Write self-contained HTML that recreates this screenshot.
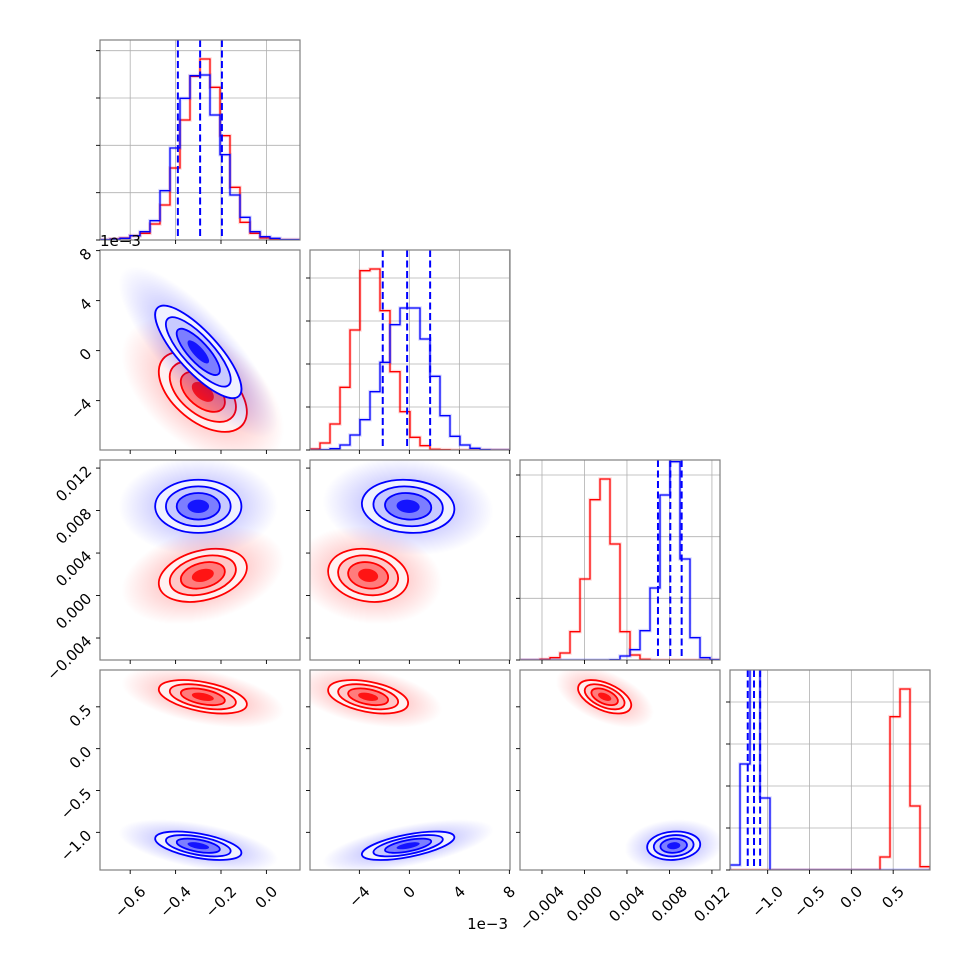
<!DOCTYPE html>
<html><head><meta charset="utf-8"><style>
html,body{margin:0;padding:0;background:#fff;}
svg text{font-family:"DejaVu Sans","Liberation Sans",sans-serif;font-size:15px;fill:#000;}
</style></head><body>
<svg id="fig" width="970" height="970" viewBox="0 0 970 970" xmlns="http://www.w3.org/2000/svg">
<defs id="defs"></defs>
</svg>
<script>
// ---- data ----
const paramRanges = [[-0.733,0.148],[-7.95,8.05],[-0.00607,0.01276],[-1.45,0.94]];
const paramTicks = [[-0.6,-0.4,-0.2,0.0],[-4,0,4,8],[-0.004,0.000,0.004,0.008,0.012],[-1.0,-0.5,0.0,0.5]];
const paramTickLabels = [["\u22120.6","\u22120.4","\u22120.2","0.0"],["\u22124","0","4","8"],["\u22120.004","0.000","0.004","0.008","0.012"],["\u22121.0","\u22120.5","0.0","0.5"]];
const histMax = 600;
const histTickStep = [142,129,185,126];
const redHist0 = [1,3,6,13,20,48,105,216,360,491,543,458,313,158,53,20,6,2,1,1];
const blueHist0 = [1,2,5,13,25,58,148,276,425,493,495,375,256,135,68,25,10,5,1,1];
const redHist1 = [3,21,78,188,360,538,543,418,235,115,38,13,2,1,0,0,0,0,0,0];
const blueHist1 = [0,1,4,15,45,91,175,263,376,426,426,333,221,103,41,15,5,1,0,0];
const redHist2 = [0,0,2,7,21,85,243,481,543,348,85,15,2,0,0,0,0,0,0,0];
const blueHist2 = [0,0,0,0,0,0,0,0,0,1,12,31,88,216,495,595,303,67,7,1];
const redHist3 = [0,0,0,0,0,0,0,0,0,0,0,0,0,0,0,39,460,543,192,10];
const blueHist3 = [15,318,1000,216,0,0,0,0,0,0,0,0,0,0,0,0,0,0,0,0];
const blueQuantiles = [[-0.390,-0.292,-0.196],[-2.13,-0.18,1.66],[0.00692,0.00808,0.00915],[-1.238,-1.163,-1.09]];
const blueMean = [-0.30,-0.1,0.0084,-1.16];
const blueSd = [0.095,1.85,0.00125,0.085];
const redMean = [-0.28,-3.3,0.0019,0.62];
const redSd = [0.097,1.6,0.00125,0.1];
const blueCorr = {"0-1":-0.8,"0-2":0.0,"1-2":-0.1,"0-3":-0.5,"1-3":0.6,"2-3":0.1};
const redCorr = {"0-1":-0.5,"0-2":0.3,"1-2":-0.15,"0-3":-0.45,"1-3":-0.4,"2-3":-0.5};
const offsetText = "1e\u22123";

const redHists=[redHist0,redHist1,redHist2,redHist3];
const blueHists=[blueHist0,blueHist1,blueHist2,blueHist3];
const NS="http://www.w3.org/2000/svg";
const svg=document.getElementById('fig');
const defs=document.getElementById('defs');
const PL=[100,310,520,730], PT=[40,250,460,670], PS=200;
function mk(tag,attrs,parent){const e=document.createElementNS(NS,tag);for(const k in attrs)e.setAttribute(k,attrs[k]);(parent||svg).appendChild(e);return e;}
function sx(p,col,v){const r=paramRanges[p];return PL[col]+(v-r[0])/(r[1]-r[0])*PS;}
function sy(p,row,v){const r=paramRanges[p];return PT[row]+PS-(v-r[0])/(r[1]-r[0])*PS;}
function hy(row,c){return PT[row]+PS-c/histMax*PS;}
const colors={blue:{line:"#0000ff",f:["#f0f1ff","#c8caff","#7c7eff","#1414ff"],cloud:"0,0,255"},
              red:{line:"#ff0000",f:["#fff1f1","#ffc8c8","#ff7c7c","#ff1414"],cloud:"255,0,0"}};
let gid=0;
for(let row=0;row<4;row++){
  for(let col=0;col<=row;col++){
    const g=mk('g',{});
    
    
    const cid='clip'+row+col;
    const cp=mk('clipPath',{id:cid},defs);
    mk('rect',{x:PL[col],y:PT[row],width:PS,height:PS},cp);
    const inner=mk('g',{'clip-path':'url(#'+cid+')'},g);
    if(row===col){
      const p=row;
      paramTicks[p].forEach(t=>{const x=sx(p,col,t);const l=mk('line',{x1:x,x2:x,y1:PT[row],y2:PT[row]+PS,stroke:'#b0b0b0','stroke-width':0.8},inner);});
      for(let c=0;c<=histMax;c+=histTickStep[p]){const y=hy(row,c);const l=mk('line',{x1:PL[col],x2:PL[col]+PS,y1:y,y2:y,stroke:'#b0b0b0','stroke-width':0.8},inner);}
      [['red',redHists[p]],['blue',blueHists[p]]].forEach(([nm,h])=>{
        const n=h.length,r=paramRanges[p],w=(r[1]-r[0])/n;
        let d='M'+sx(p,col,r[0])+' '+hy(row,0);
        for(let i=0;i<n;i++){const x0=sx(p,col,r[0]+i*w),x1=sx(p,col,r[0]+(i+1)*w),y=hy(row,h[i]);d+=' L'+x0+' '+y+' L'+x1+' '+y;}
        d+=' L'+sx(p,col,r[1])+' '+hy(row,0);
        mk('path',{d:d,fill:'none',stroke:colors[nm].line,'stroke-opacity':0.15,'stroke-width':3.5},inner);
        const path=mk('path',{d:d,fill:'none',stroke:colors[nm].line,'stroke-width':1.3},inner);
        
        
      });
      blueQuantiles[p].forEach(q=>{const x=sx(p,col,q);const l=mk('line',{x1:x,x2:x,y1:PT[row],y2:PT[row]+PS,stroke:'#0000ff','stroke-width':2,'stroke-dasharray':'7,3.5'},inner);});
    } else {
      const px=col,py=row,key=px+'-'+py;
      [['red',redMean,redSd,redCorr],['blue',blueMean,blueSd,blueCorr]].forEach(([nm,m,s,cr])=>{
        const cx=sx(px,col,m[px]),cy=sy(py,row,m[py]);
        const kx=PS/(paramRanges[px][1]-paramRanges[px][0]),ky=PS/(paramRanges[py][1]-paramRanges[py][0]);
        const a=Math.pow(s[px]*kx,2),b=Math.pow(s[py]*ky,2),c=-cr[key]*s[px]*kx*s[py]*ky;
        const th=0.5*Math.atan2(2*c,a-b);const tr=(a+b)/2,dd=Math.sqrt(Math.pow((a-b)/2,2)+c*c);
        const l1=Math.sqrt(tr+dd),l2=Math.sqrt(Math.max(tr-dd,0.1));
        const rot='rotate('+(th*180/Math.PI)+' '+cx+' '+cy+')';
        const gradId='grad'+(gid++);
        const rg=mk('radialGradient',{id:gradId},defs);
        mk('stop',{offset:'0','stop-color':'rgb('+colors[nm].cloud+')','stop-opacity':0.4},rg);
        mk('stop',{offset:'0.55','stop-color':'rgb('+colors[nm].cloud+')','stop-opacity':0.17},rg);
        mk('stop',{offset:'1','stop-color':'rgb('+colors[nm].cloud+')','stop-opacity':0},rg);
        const cl=mk('ellipse',{cx:cx,cy:cy,rx:3.7*l1,ry:3.7*l2,fill:'url(#'+gradId+')',transform:rot},inner);
        
        
        [2,1.5,1,0.5].forEach((lv,k)=>{
          const e=mk('ellipse',{cx:cx,cy:cy,rx:lv*l1,ry:lv*l2,fill:colors[nm].f[k],transform:rot},inner);
          
          
        });
        [2,1.5,1].forEach(lv=>{
          const e=mk('ellipse',{cx:cx,cy:cy,rx:lv*l1,ry:lv*l2,fill:'none',stroke:colors[nm].line,'stroke-width':1.8,transform:rot},inner);
          
          
        });
      });
    }
    const fr=mk('rect',{x:PL[col],y:PT[row],width:PS,height:PS,fill:'none',stroke:'#808080','stroke-width':1.2},g);
    
    
    paramTicks[col].forEach((t,i)=>{
      const x=sx(col,col,t);
      if(x<PL[col]-0.5||x>PL[col]+PS+0.5)return;
      mk('line',{x1:x,x2:x,y1:PT[row]+PS,y2:PT[row]+PS+4,stroke:'#000','stroke-width':0.9},g);
      if(row===3){
        const tx=mk('text',{x:0,y:0,'text-anchor':'middle','dominant-baseline':'central'},g);
        tx.textContent=paramTickLabels[col][i];
        
        
        const L=tx.getComputedTextLength();
        const half=(L+11)*0.7071/2;
        tx.setAttribute('transform','translate('+x+','+(PT[row]+PS+15+half)+') rotate(-45)');
      }
    });
    if(row===col){
      for(let c=0;c<=histMax;c+=histTickStep[row]){const y=hy(row,c);mk('line',{x1:PL[col]-4,x2:PL[col],y1:y,y2:y,stroke:'#000','stroke-width':0.9},g);}
    } else {
      paramTicks[row].forEach((t,i)=>{
        const y=sy(row,row,t);
        if(y<PT[row]-0.5||y>PT[row]+PS+0.5)return;
        mk('line',{x1:PL[col]-4,x2:PL[col],y1:y,y2:y,stroke:'#000','stroke-width':0.9},g);
        if(col===0){
          const tx=mk('text',{x:0,y:0,'text-anchor':'end',transform:'translate('+(PL[col]-7.5)+','+(y+4)+') rotate(-45)'},g);
          tx.textContent=paramTickLabels[row][i];
          
          
        }
      });
    }
  }
}
const o1=mk('text',{x:100,y:246});
o1.textContent=offsetText;


const o2=mk('text',{x:508,y:929,'text-anchor':'end'});
o2.textContent=offsetText;


</script>
</body></html>
